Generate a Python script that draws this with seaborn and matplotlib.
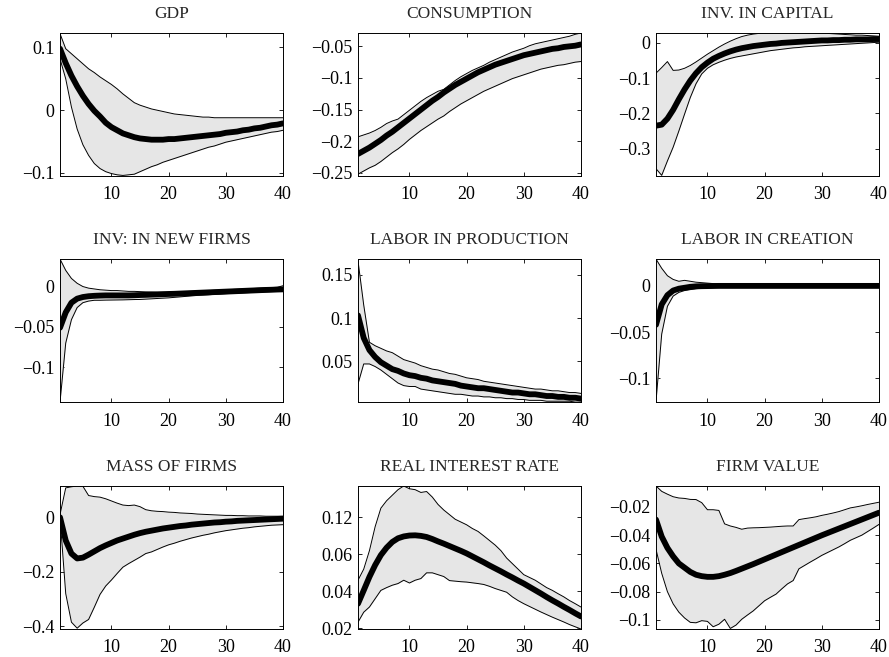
import numpy as np
import pandas as pd
import seaborn as sns
import matplotlib.pyplot as plt
from matplotlib.ticker import FixedLocator, FixedFormatter

# horizon
periods = list(range(1, 41))

titles = ["GDP", "CONSUMPTION", "INV. IN CAPITAL",
          "INV: IN NEW FIRMS", "LABOR IN PRODUCTION", "LABOR IN CREATION",
          "MASS OF FIRMS", "REAL INTEREST RATE", "FIRM VALUE"]

# ---- GDP
gdp_med = [0.098, 0.075, 0.055, 0.038, 0.023, 0.010, -0.001, -0.010, -0.020, -0.027,
           -0.032, -0.037, -0.040, -0.043, -0.045, -0.046, -0.047, -0.047, -0.047, -0.046,
           -0.046, -0.045, -0.044, -0.043, -0.042, -0.041, -0.040, -0.039, -0.038, -0.036,
           -0.035, -0.034, -0.032, -0.031, -0.029, -0.028, -0.026, -0.024, -0.023, -0.021]
gdp_up = [0.122, 0.098, 0.090, 0.082, 0.074, 0.066, 0.060, 0.053, 0.047, 0.041,
          0.034, 0.026, 0.019, 0.012, 0.008, 0.005, 0.002, 0.000, -0.002, -0.004,
          -0.006, -0.007, -0.008, -0.009, -0.010, -0.011, -0.011, -0.012, -0.012, -0.012,
          -0.012, -0.012, -0.012, -0.012, -0.012, -0.012, -0.012, -0.012, -0.012, -0.012]
gdp_lo = [0.082, 0.050, 0.005, -0.030, -0.055, -0.072, -0.085, -0.093, -0.098, -0.101,
          -0.103, -0.104, -0.103, -0.102, -0.098, -0.094, -0.090, -0.087, -0.083, -0.080,
          -0.077, -0.074, -0.071, -0.068, -0.065, -0.062, -0.059, -0.057, -0.054, -0.051,
          -0.049, -0.047, -0.045, -0.043, -0.041, -0.039, -0.037, -0.035, -0.034, -0.032]

# ---- consumption
cons_med = [-0.220, -0.215, -0.210, -0.204, -0.198, -0.191, -0.185, -0.178, -0.171, -0.164,
            -0.157, -0.150, -0.143, -0.136, -0.130, -0.123, -0.117, -0.111, -0.106, -0.101,
            -0.096, -0.091, -0.087, -0.083, -0.079, -0.076, -0.073, -0.070, -0.067, -0.064,
            -0.062, -0.060, -0.058, -0.056, -0.054, -0.053, -0.051, -0.050, -0.049, -0.047]
cons_up = [-0.193, -0.190, -0.187, -0.183, -0.178, -0.172, -0.168, -0.165, -0.158, -0.151,
           -0.144, -0.137, -0.131, -0.126, -0.121, -0.118, -0.111, -0.104, -0.098, -0.093,
           -0.088, -0.084, -0.080, -0.075, -0.071, -0.067, -0.063, -0.059, -0.056, -0.053,
           -0.049, -0.046, -0.044, -0.042, -0.040, -0.038, -0.036, -0.034, -0.031, -0.029]
cons_lo = [-0.252, -0.247, -0.242, -0.238, -0.232, -0.225, -0.218, -0.212, -0.205, -0.197,
           -0.190, -0.183, -0.177, -0.171, -0.165, -0.160, -0.153, -0.147, -0.141, -0.136,
           -0.131, -0.126, -0.121, -0.117, -0.113, -0.109, -0.105, -0.101, -0.098, -0.095,
           -0.092, -0.089, -0.086, -0.084, -0.082, -0.080, -0.079, -0.077, -0.075, -0.074]

# ---- investment in capital
invk_med = [-0.235, -0.232, -0.215, -0.190, -0.160, -0.132, -0.107, -0.086, -0.069, -0.056,
            -0.045, -0.037, -0.030, -0.024, -0.019, -0.015, -0.012, -0.009, -0.007, -0.005,
            -0.003, -0.002, 0.000, 0.001, 0.002, 0.003, 0.004, 0.005, 0.006, 0.007,
            0.007, 0.008, 0.008, 0.009, 0.009, 0.010, 0.010, 0.010, 0.011, 0.011]
invk_up = [-0.086, -0.070, -0.053, -0.078, -0.077, -0.072, -0.064, -0.054, -0.043, -0.032,
           -0.022, -0.012, -0.003, 0.005, 0.012, 0.018, 0.022, 0.025, 0.027, 0.028,
           0.029, 0.030, 0.030, 0.030, 0.030, 0.030, 0.029, 0.029, 0.028, 0.028,
           0.027, 0.026, 0.025, 0.024, 0.023, 0.022, 0.022, 0.021, 0.020, 0.019]
invk_lo = [-0.357, -0.376, -0.335, -0.296, -0.250, -0.202, -0.155, -0.116, -0.088, -0.072,
           -0.062, -0.055, -0.049, -0.044, -0.040, -0.037, -0.034, -0.031, -0.028, -0.025,
           -0.022, -0.020, -0.018, -0.016, -0.014, -0.013, -0.011, -0.010, -0.009, -0.008,
           -0.007, -0.006, -0.005, -0.004, -0.003, -0.002, -0.001, 0.000, 0.001, 0.002]

# ---- investment in new firms
invn_med = [-0.051, -0.032, -0.020, -0.015, -0.013, -0.012, -0.0115, -0.0112, -0.011, -0.011,
            -0.011, -0.011, -0.011, -0.0108, -0.0105, -0.0103, -0.010, -0.0098, -0.0095, -0.0092,
            -0.009, -0.0087, -0.0084, -0.0081, -0.0078, -0.0075, -0.0072, -0.0069, -0.0066, -0.0063,
            -0.006, -0.0057, -0.0054, -0.0051, -0.0048, -0.0045, -0.0042, -0.004, -0.0037, -0.0035]
invn_up = [0.034, 0.020, 0.010, 0.004, 0.000, -0.002, -0.003, -0.004, -0.0045, -0.005,
           -0.005, -0.0055, -0.006, -0.006, -0.0063, -0.0066, -0.0068, -0.007, -0.007, -0.007,
           -0.0068, -0.0065, -0.0062, -0.006, -0.0057, -0.0054, -0.005, -0.0047, -0.0044, -0.004,
           -0.0037, -0.0034, -0.003, -0.0027, -0.0024, -0.002, -0.0017, -0.0013, -0.001, 0.001]
invn_lo = [-0.143, -0.070, -0.041, -0.026, -0.020, -0.018, -0.017, -0.017, -0.0168, -0.0167,
           -0.0166, -0.0165, -0.0163, -0.0161, -0.016, -0.0156, -0.0152, -0.0148, -0.0144, -0.014,
           -0.0134, -0.0128, -0.0122, -0.0116, -0.011, -0.0106, -0.0102, -0.0097, -0.0093, -0.0088,
           -0.0085, -0.0082, -0.0078, -0.0075, -0.0072, -0.0069, -0.0066, -0.0062, -0.0059, -0.0055]

# ---- labor in production
labp_med = [0.103, 0.077, 0.063, 0.055, 0.049, 0.045, 0.041, 0.039, 0.036, 0.034,
            0.033, 0.031, 0.030, 0.028, 0.027, 0.026, 0.025, 0.024, 0.022, 0.021,
            0.020, 0.019, 0.019, 0.018, 0.017, 0.016, 0.015, 0.014, 0.014, 0.013,
            0.012, 0.012, 0.011, 0.010, 0.010, 0.009, 0.009, 0.008, 0.008, 0.007]
labp_up = [0.166, 0.115, 0.072, 0.068, 0.065, 0.062, 0.060, 0.056, 0.052, 0.050,
           0.048, 0.045, 0.043, 0.041, 0.040, 0.038, 0.036, 0.035, 0.033, 0.031,
           0.030, 0.029, 0.027, 0.026, 0.025, 0.024, 0.023, 0.022, 0.021, 0.020,
           0.019, 0.018, 0.018, 0.017, 0.016, 0.016, 0.015, 0.014, 0.014, 0.013]
labp_lo = [0.024, 0.047, 0.047, 0.044, 0.040, 0.035, 0.030, 0.025, 0.022, 0.021,
           0.021, 0.018, 0.017, 0.016, 0.015, 0.014, 0.013, 0.012, 0.012, 0.011,
           0.010, 0.010, 0.009, 0.009, 0.008, 0.008, 0.007, 0.007, 0.006, 0.006,
           0.005, 0.005, 0.005, 0.004, 0.004, 0.004, 0.004, 0.004, 0.003, 0.003]

# ---- labor in creation
labc_med = [-0.042, -0.020, -0.010, -0.005, -0.003, -0.002, -0.001, -0.0005, -0.0003, -0.0002,
            -0.0001, 0.0, 0.0, 0.0, 0.0, 0.0, 0.0, 0.0, 0.0, 0.0,
            0.0, 0.0, 0.0, 0.0, 0.0, 0.0, 0.0, 0.0, 0.0, 0.0,
            0.0, 0.0, 0.0, 0.0, 0.0, 0.0, 0.0, 0.0, 0.0, 0.0]
labc_up = [0.029, 0.019, 0.011, 0.007, 0.005, 0.006, 0.005, 0.004, 0.0035, 0.003,
           0.0025, 0.002, 0.0015, 0.001, 0.001, 0.0009, 0.0009, 0.0008, 0.0008, 0.0008,
           0.0007, 0.0007, 0.0007, 0.0007, 0.0006, 0.0006, 0.0006, 0.0006, 0.0006, 0.0006,
           0.0005, 0.0005, 0.0005, 0.0005, 0.0005, 0.0005, 0.0005, 0.0005, 0.0005, 0.0005]
labc_lo = [-0.125, -0.052, -0.022, -0.011, -0.007, -0.005, -0.004, -0.003, -0.0025, -0.002,
           -0.0018, -0.0015, -0.0013, -0.0011, -0.001, -0.0009, -0.0009, -0.0008, -0.0008, -0.0008,
           -0.0007, -0.0007, -0.0007, -0.0007, -0.0006, -0.0006, -0.0006, -0.0006, -0.0006, -0.0006,
           -0.0005, -0.0005, -0.0005, -0.0005, -0.0005, -0.0005, -0.0005, -0.0005, -0.0005, -0.0005]

# ---- mass of firms
mass_med = [0.000, -0.085, -0.133, -0.151, -0.148, -0.137, -0.125, -0.113, -0.103, -0.094,
            -0.085, -0.078, -0.071, -0.064, -0.058, -0.053, -0.049, -0.045, -0.041, -0.038,
            -0.035, -0.032, -0.030, -0.027, -0.025, -0.023, -0.021, -0.019, -0.018, -0.016,
            -0.015, -0.013, -0.012, -0.011, -0.010, -0.009, -0.008, -0.007, -0.006, -0.005]
mass_up = [0.010, 0.108, 0.112, 0.115, 0.114, 0.080, 0.076, 0.074, 0.068, 0.060,
           0.052, 0.045, 0.043, 0.045, 0.039, 0.028, 0.024, 0.022, 0.021, 0.019,
           0.018, 0.016, 0.015, 0.014, 0.012, 0.011, 0.010, 0.009, 0.008, 0.007,
           0.007, 0.006, 0.006, 0.005, 0.005, 0.005, 0.004, 0.004, 0.004, 0.004]
mass_lo = [0.000, -0.280, -0.385, -0.407, -0.388, -0.375, -0.330, -0.283, -0.252, -0.230,
           -0.206, -0.183, -0.170, -0.158, -0.146, -0.133, -0.127, -0.118, -0.109, -0.101,
           -0.095, -0.088, -0.082, -0.076, -0.071, -0.066, -0.062, -0.057, -0.053, -0.049,
           -0.046, -0.043, -0.040, -0.038, -0.035, -0.033, -0.031, -0.029, -0.028, -0.027]

# ---- real interest rate (in axis units of the printed tick grid)
rir_med = [0.0333, 0.0405, 0.0478, 0.0542, 0.0596, 0.0636, 0.0667, 0.0687, 0.0697, 0.0702,
           0.0703, 0.0700, 0.0694, 0.0683, 0.0670, 0.0658, 0.0645, 0.0632, 0.0619, 0.0605,
           0.0589, 0.0573, 0.0557, 0.0540, 0.0524, 0.0508, 0.0491, 0.0475, 0.0458, 0.0442,
           0.0424, 0.0406, 0.0388, 0.0369, 0.0351, 0.0334, 0.0316, 0.0299, 0.0281, 0.0264]
rir_up = [0.046, 0.052, 0.062, 0.075, 0.085, 0.089, 0.092, 0.095, 0.097, 0.0955,
          0.095, 0.0935, 0.094, 0.091, 0.087, 0.084, 0.0815, 0.079, 0.0775, 0.076,
          0.074, 0.0724, 0.070, 0.0675, 0.065, 0.062, 0.058, 0.055, 0.052, 0.049,
          0.0475, 0.046, 0.044, 0.042, 0.0405, 0.0387, 0.037, 0.035, 0.0333, 0.0315]
rir_lo = [0.0233, 0.0287, 0.0315, 0.036, 0.0405, 0.042, 0.0433, 0.0442, 0.046, 0.0445,
          0.046, 0.0469, 0.050, 0.050, 0.049, 0.048, 0.0458, 0.0455, 0.0452, 0.045,
          0.0446, 0.0442, 0.0437, 0.0427, 0.0415, 0.0405, 0.0395, 0.037, 0.035, 0.0333,
          0.0318, 0.0303, 0.0288, 0.0274, 0.026, 0.0247, 0.0234, 0.022, 0.0208, 0.0196]

# ---- firm value
fv_med = [-0.029, -0.041, -0.049, -0.055, -0.060, -0.063, -0.066, -0.068, -0.069, -0.0695,
          -0.0695, -0.069, -0.068, -0.0668, -0.0653, -0.0637, -0.0621, -0.0605, -0.0588, -0.0571,
          -0.0554, -0.0537, -0.0520, -0.0503, -0.0486, -0.0469, -0.0452, -0.0435, -0.0418, -0.0401,
          -0.0385, -0.0369, -0.0353, -0.0337, -0.0321, -0.0305, -0.0289, -0.0273, -0.0257, -0.0241]
fv_up = [-0.0052, -0.009, -0.011, -0.0128, -0.0137, -0.014, -0.0147, -0.0148, -0.017, -0.022,
         -0.022, -0.0225, -0.032, -0.0335, -0.0345, -0.0358, -0.035, -0.0348, -0.0347, -0.0345,
         -0.0343, -0.034, -0.0337, -0.0335, -0.0335, -0.029, -0.0283, -0.0277, -0.027, -0.026,
         -0.0252, -0.0243, -0.0233, -0.022, -0.0207, -0.020, -0.0192, -0.0183, -0.0175, -0.0167]
fv_lo = [-0.050, -0.067, -0.080, -0.0886, -0.0945, -0.0986, -0.1017, -0.102, -0.1005, -0.101,
         -0.1048, -0.103, -0.0995, -0.106, -0.1036, -0.0995, -0.0965, -0.0936, -0.090, -0.0864,
         -0.084, -0.0817, -0.078, -0.0745, -0.0721, -0.0638, -0.0614, -0.059, -0.0567, -0.0543,
         -0.0523, -0.0503, -0.0483, -0.046, -0.0436, -0.0418, -0.040, -0.0375, -0.035, -0.0324]

medians = [gdp_med, cons_med, invk_med, invn_med, labp_med, labc_med, mass_med, rir_med, fv_med]
uppers = [gdp_up, cons_up, invk_up, invn_up, labp_up, labc_up, mass_up, rir_up, fv_up]
lowers = [gdp_lo, cons_lo, invk_lo, invn_lo, labp_lo, labc_lo, mass_lo, rir_lo, fv_lo]

ylims = [(-0.105, 0.123), (-0.255, -0.029), (-0.378, 0.028),
         (-0.143, 0.034), (0.003, 0.168), (-0.1255, 0.029),
         (-0.41, 0.115), (0.0196, 0.097), (-0.1064, -0.0052)]

ytick_pos = [[-0.1, 0, 0.1], [-0.25, -0.2, -0.15, -0.1, -0.05], [-0.3, -0.2, -0.1, 0],
             [-0.1, -0.05, 0], [0.05, 0.1, 0.15], [-0.1, -0.05, 0],
             [-0.4, -0.2, 0], [0.02, 0.04, 0.06, 0.08], [-0.1, -0.08, -0.06, -0.04, -0.02]]
ytick_lab = [["\u22120.1", "0", "0.1"],
             ["\u22120.25", "\u22120.2", "\u22120.15", "\u22120.1", "\u22120.05"],
             ["\u22120.3", "\u22120.2", "\u22120.1", "0"],
             ["\u22120.1", "\u22120.05", "0"],
             ["0.05", "0.1", "0.15"],
             ["\u22120.1", "\u22120.05", "0"],
             ["\u22120.4", "\u22120.2", "0"],
             ["0.02", "0.04", "0.06", "0.12"],
             ["\u22120.1", "\u22120.08", "\u22120.06", "\u22120.04", "\u22120.02"]]
xticks = [10, 20, 30, 40]

sns.set_theme(style="ticks")
plt.rcParams["font.family"] = ["Liberation Serif", "DejaVu Serif"]
plt.rcParams["xtick.direction"] = "in"
plt.rcParams["ytick.direction"] = "in"

fig = plt.figure(figsize=(8.89, 6.57), dpi=100)

lefts = [0.0675, 0.4027, 0.7379]
bottoms = [0.732, 0.388, 0.0426]
w, h = 0.2508, 0.2177

for i, title in enumerate(titles):
    r, c = divmod(i, 3)
    ax = fig.add_axes([lefts[c], bottoms[r], w, h])
    df = pd.DataFrame({"t": periods, "med": medians[i], "up": uppers[i], "lo": lowers[i]})
    ax.fill_between(df["t"], df["lo"], df["up"], color="#e6e6e6", lw=0)
    sns.lineplot(data=df, x="t", y="up", ax=ax, color="black", lw=0.7)
    sns.lineplot(data=df, x="t", y="lo", ax=ax, color="black", lw=0.7)
    sns.lineplot(data=df, x="t", y="med", ax=ax, color="black", lw=4.2)
    ax.set_xlim(1, 40)
    ax.set_ylim(*ylims[i])
    ax.xaxis.set_major_locator(FixedLocator(xticks))
    ax.yaxis.set_major_locator(FixedLocator(ytick_pos[i]))
    ax.yaxis.set_major_formatter(FixedFormatter(ytick_lab[i]))
    ax.set_xlabel("")
    ax.set_ylabel("")
    ax.set_title(title, fontsize=12.5, pad=10.5)
    ax.tick_params(axis="both", which="major", labelsize=13, length=3, width=0.6,
                   top=True, right=True, pad=4, colors="black")
    ax.tick_params(axis="x", pad=7.5)
    for s in ax.spines.values():
        s.set_linewidth(0.7)
        s.set_color("black")

fig.savefig("out.png", dpi=100)
